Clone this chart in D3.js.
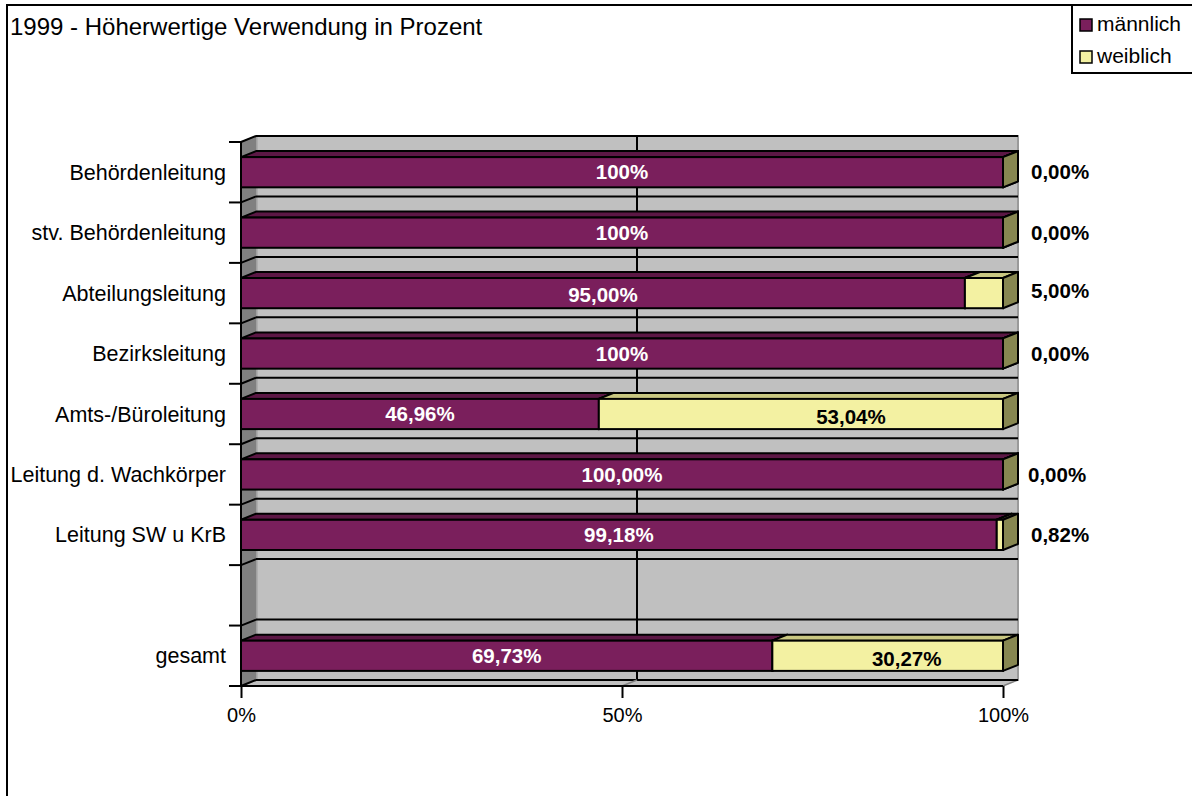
<!DOCTYPE html>
<html><head><meta charset="utf-8">
<script src="https://cdnjs.cloudflare.com/ajax/libs/d3/7.8.5/d3.min.js"></script>
<style>
html,body{margin:0;padding:0;background:#fff;}
svg{display:block;font-family:"Liberation Sans",Arial,sans-serif;}
</style></head>
<body><svg id="c" width="1192" height="796"></svg>
<script>
const title = "1999 - Höherwertige Verwendung in Prozent";
const categories = ["Behördenleitung","stv. Behördenleitung","Abteilungsleitung","Bezirksleitung","Amts-/Büroleitung","Leitung d. Wachkörper","Leitung SW u KrB","","gesamt"];
const seriesNames = ["männlich","weiblich"];
const maleValues = [100,100,95,100,46.96,100,99.18,null,69.73];
const femaleValues = [0,0,5,0,53.04,0,0.82,null,30.27];
const maleLabels = ["100%","100%","95,00%","100%","46,96%","100,00%","99,18%",null,"69,73%"];
const femaleLabels = ["0,00%","0,00%","5,00%","0,00%","53,04%","0,00%","0,82%",null,"30,27%"];
const valueTicks = [0,50,100];
const valueTickLabels = ["0%","50%","100%"];

const svg = d3.select("#c");
const W = 1192, H = 796;
const DX = 15, DY = -6;
const colors = {
  male:{front:"#7a1f5c", top:"#5c1745", side:"#4a1238"},
  female:{front:"#f3f1a2", top:"#c9c781", side:"#878751"}
};

// outer border
svg.append("path").attr("d",`M7,${H+5} L7,5 L${W+5},5`).attr("fill","none").attr("stroke","#000").attr("stroke-width",2);
// title
svg.append("text").attr("x",10).attr("y",35).attr("font-size",24).text(title);

// legend
const lg = svg.append("g");
lg.append("rect").attr("x",1072).attr("y",5).attr("width",W).attr("height",68).attr("fill","#fff").attr("stroke","#000").attr("stroke-width",2);
const legColors = [colors.male.front, colors.female.front];
seriesNames.forEach((n,i)=>{
  const y0 = 19 + i*32;
  lg.append("rect").attr("x",1080).attr("y",y0).attr("width",12).attr("height",12).attr("fill",legColors[i]).attr("stroke","#000").attr("stroke-width",1.5);
  lg.append("text").attr("x",1097).attr("y",y0+12).attr("font-size",21).text(n);
});

const x = d3.scaleLinear().domain([0,100]).range([241,1003]);
const y = d3.scaleBand().domain(d3.range(categories.length)).range([142,686]).paddingInner(0).paddingOuter(0);
const bw = y.bandwidth();
const barH = bw*0.5;
const yTop = 142, yBot = 686;
const x0 = x(0), x1 = x(100);

// back wall
svg.append("rect").attr("x",x0+DX).attr("y",yTop+DY).attr("width",x1-x0).attr("height",yBot-yTop)
  .attr("fill","#c0c0c0").attr("stroke","#9a9a9a").attr("stroke-width",2);
// left wall
svg.append("path").attr("d",`M${x0},${yTop} L${x0+DX},${yTop+DY} L${x0+DX},${yBot+DY} L${x0},${yBot} Z`)
  .attr("fill","#808080").attr("stroke","#808080").attr("stroke-width",1);
svg.append("line").attr("x1",x0+DX+1).attr("x2",x0+DX+1).attr("y1",yTop+DY).attr("y2",yBot+DY).attr("stroke","#a8a8a8").attr("stroke-width",1.5);
// floor
svg.append("path").attr("d",`M${x0},${yBot} L${x0+DX},${yBot+DY} L${x1+DX},${yBot+DY} L${x1},${yBot} Z`)
  .attr("fill","#c0c0c0").attr("stroke","#808080").attr("stroke-width",1.5);

// gridlines: horizontal on back wall at band boundaries
const bounds = d3.range(categories.length+1).map(i=> yTop + i*bw);
svg.append("g").selectAll("line.h").data(bounds).join("line")
  .attr("x1",x0+DX).attr("x2",x1+DX).attr("y1",d=>d+DY).attr("y2",d=>d+DY)
  .attr("stroke","#000").attr("stroke-width",2);
svg.append("g").selectAll("line.d").data(bounds).join("line")
  .attr("x1",x0).attr("x2",x0+DX).attr("y1",d=>d).attr("y2",d=>d+DY)
  .attr("stroke","#000").attr("stroke-width",2);
// vertical gridlines on back wall
svg.append("g").selectAll("line").data(valueTicks.filter(v=>v>0 && v<100)).join("line")
  .attr("x1",d=>x(d)+DX).attr("x2",d=>x(d)+DX).attr("y1",yTop+DY).attr("y2",yBot+DY)
  .attr("stroke","#000").attr("stroke-width",2);
svg.append("g").selectAll("line").data(valueTicks.filter(v=>v>0 && v<100)).join("line")
  .attr("x1",d=>x(d)).attr("x2",d=>x(d)+DX).attr("y1",yBot).attr("y2",yBot+DY)
  .attr("stroke","#808080").attr("stroke-width",1.5);

// bars
function box(g, xa, xb, yt, h, c){
  const yb = yt + h;
  g.append("path").attr("d",`M${xa},${yt} L${xa+DX},${yt+DY} L${xb+DX},${yt+DY} L${xb},${yt} Z`)
    .attr("fill",c.top).attr("stroke","#000").attr("stroke-width",2).attr("stroke-linejoin","round");
  g.append("path").attr("d",`M${xb},${yt} L${xb+DX},${yt+DY} L${xb+DX},${yb+DY} L${xb},${yb} Z`)
    .attr("fill",c.side).attr("stroke","#000").attr("stroke-width",2).attr("stroke-linejoin","round");
  g.append("rect").attr("x",xa).attr("y",yt).attr("width",Math.max(0,xb-xa)).attr("height",h)
    .attr("fill",c.front).attr("stroke","#000").attr("stroke-width",2);
}
const bars = svg.append("g");
categories.forEach((c,i)=>{
  if (maleValues[i]==null) return;
  const yt = y(i) + (bw-barH)/2;
  const g = bars.append("g");
  const m = maleValues[i], f = femaleValues[i];
  box(g, x(0), x(m), yt, barH, colors.male);
  box(g, x(m), x(m+f), yt, barH, colors.female);
});

// axes lines
svg.append("line").attr("x1",x0).attr("x2",x0).attr("y1",yTop).attr("y2",yBot+1).attr("stroke","#000").attr("stroke-width",2);
svg.append("line").attr("x1",x0-12).attr("x2",x1).attr("y1",yBot).attr("y2",yBot).attr("stroke","#000").attr("stroke-width",2);
// category ticks
svg.append("g").selectAll("line").data(bounds).join("line")
  .attr("x1",x0-12).attr("x2",x0).attr("y1",d=>d).attr("y2",d=>d).attr("stroke","#000").attr("stroke-width",2);
// category labels
svg.append("g").selectAll("text").data(categories).join("text")
  .attr("x",226).attr("y",(d,i)=>y(i)+bw/2).attr("dy","0.35em").attr("text-anchor","end")
  .attr("font-size",21.5).text(d=>d);

// value axis
const xa = d3.axisBottom(x).tickValues(valueTicks).tickFormat((d,i)=>valueTickLabels[i]).tickSize(12).tickPadding(10);
const axG = svg.append("g").attr("transform",`translate(0,${yBot})`).call(xa);
axG.select(".domain").remove();
axG.selectAll(".tick line").attr("stroke","#000").attr("stroke-width",2);
axG.selectAll(".tick text").attr("font-size",20).attr("font-family","Liberation Sans, Arial, sans-serif").attr("fill","#000");

// data labels
const lab = svg.append("g").attr("font-weight","bold").attr("font-size",20.5);
const femaleInsideShift = {4:50, 8:19};
categories.forEach((c,i)=>{
  if (maleValues[i]==null) return;
  const cy = y(i)+bw/2;
  const m = maleValues[i], f = femaleValues[i];
  lab.append("text").attr("x",(x(0)+x(m))/2).attr("y",cy + (i===2?2:0)).attr("dy","0.35em").attr("text-anchor","middle")
    .attr("fill","#fff").text(maleLabels[i]);
  if (f >= 20) {
    lab.append("text").attr("x",(x(m)+x(m+f))/2 + (femaleInsideShift[i]||0)).attr("y",cy+3).attr("dy","0.35em").attr("text-anchor","middle")
      .attr("fill","#000").text(femaleLabels[i]);
  } else {
    lab.append("text").attr("x",x(100)+(i===5?25:28)).attr("y",cy - (i===2?2:0)).attr("dy","0.35em").attr("text-anchor","start")
      .attr("fill","#000").text(femaleLabels[i]);
  }
});
</script></body></html>
